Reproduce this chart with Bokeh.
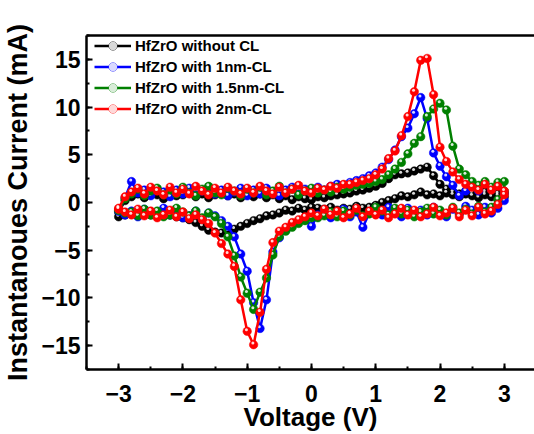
from bokeh.plotting import figure
from bokeh.models import (SingleIntervalTicker, FixedTicker, LinearAxis, Range1d,
                          Legend, LegendItem, ColumnDataSource)
from bokeh.transform import dodge
from bokeh.embed import file_html
from bokeh.resources import INLINE

# Voltage sweep (V): forward branch -3 -> 3, then reverse branch 3 -> -3
V_UP = [-3.0, -2.9, -2.8, -2.7, -2.6, -2.5, -2.4, -2.3, -2.2, -2.1,
        -2.0, -1.9, -1.8, -1.7, -1.6, -1.5, -1.4, -1.3, -1.2, -1.1,
        -1.0, -0.9, -0.8, -0.7, -0.6, -0.5, -0.4, -0.3, -0.2, -0.1,
        0.0, 0.1, 0.2, 0.3, 0.4, 0.5, 0.6, 0.7, 0.8, 0.9,
        1.0, 1.1, 1.2, 1.3, 1.4, 1.5, 1.6, 1.7, 1.8, 1.9,
        2.0, 2.1, 2.2, 2.3, 2.4, 2.5, 2.6, 2.7, 2.8, 2.9, 3.0]
V_DOWN = V_UP[::-1]

# Current (mA), forward sweep (-3 -> 3)
black_up = [-1.0, 0.2, 0.6, 0.9, 0.5, 1.1, 0.8, 0.4, 0.9, 0.7,
            0.8, 1.1, 0.6, 0.9, 0.5, 0.8, 1.1, 0.7, 0.9, 0.5,
            0.8, 0.6, 0.9, 0.5, 0.8, 0.4, 0.7, 0.3, 0.6, 0.4,
            0.3, 0.6, 0.5, 0.7, 0.8, 0.9, 1.0, 1.2, 1.3, 1.5,
            1.7, 2.0, 2.5, 2.9, 3.0, 3.1, 3.3, 3.5, 3.7, 2.8,
            1.9, 1.4, 1.1, 0.9, 1.2, 1.0, 0.8, 1.1, 0.9, 0.7, 1.0]
blue_up = [-0.9, 0.5, 2.2, 1.0, 1.3, 0.7, 1.4, 1.1, 0.6, 1.3,
           0.9, 1.5, 0.8, 1.2, 1.6, 0.9, 1.3, 0.7, 1.1, 1.5,
           0.7, 1.3, 0.9, 1.5, 1.1, 0.7, 1.3, 1.6, 0.9, 1.4,
           1.1, 1.6, 1.3, 1.7, 1.9, 1.6, 2.1, 2.3, 2.5, 2.8,
           3.1, 3.7, 4.5, 5.5, 6.9, 7.8, 9.3, 11.0, 8.8, 5.2,
           3.8, 2.7, 1.8, 0.7, 1.2, 1.7, 1.2, 2.0, 1.4, 1.8, 1.0]
green_up = [-0.8, 0.4, 0.9, 1.4, 0.7, 1.2, 1.5, 0.8, 1.3, 0.9,
            1.6, 1.0, 0.7, 1.4, 1.7, 1.0, 0.8, 1.5, 1.2, 0.7,
            1.4, 1.0, 1.6, 0.8, 1.2, 1.7, 1.0, 1.4, 0.8, 1.2,
            1.5, 1.0, 1.3, 1.1, 1.6, 1.4, 1.6, 1.8, 1.9, 2.0,
            2.2, 2.4, 2.9, 3.5, 4.2, 5.1, 6.2, 6.9, 9.0, 9.8,
            10.4, 9.7, 5.9, 3.5, 2.9, 2.2, 1.8, 2.2, 1.6, 2.1, 2.2]
red_up = [-0.6, 0.6, 1.1, 1.5, 0.9, 1.6, 1.2, 0.8, 1.6, 1.0,
          1.4, 0.9, 1.7, 1.2, 0.8, 1.5, 1.0, 1.6, 1.2, 0.9,
          1.5, 1.0, 1.7, 1.2, 0.9, 1.6, 1.0, 1.4, 1.8, 1.2,
          1.0, 1.5, 1.3, 1.7, 1.5, 1.9, 1.9, 2.1, 2.3, 2.5,
          2.9, 3.5, 4.6, 5.4, 7.0, 9.0, 11.6, 14.9, 15.1, 11.3,
          5.8, 4.3, 3.2, 2.4, 1.9, 1.6, 1.3, 1.9, 1.3, 1.7, 1.2]

# Current (mA), reverse sweep (3 -> -3)
black_down = [0.6, 0.9, 0.6, 0.8, 0.5, 0.7, 0.9, 0.6, 0.8, 1.0,
              0.7, 0.9, 0.8, 1.1, 0.8, 0.6, 0.7, 0.4, 0.2, 0.0,
              -0.3, -0.5, -0.6, -0.4, -0.7, -0.6, -0.8, -0.5, -0.7, -0.6,
              -0.5, -0.8, -0.6, -0.9, -0.8, -1.1, -1.3, -1.4, -1.7, -1.9,
              -2.2, -2.5, -2.8, -3.0, -3.2, -3.1, -2.9, -2.5, -2.1, -1.8,
              -1.6, -1.5, -1.3, -1.4, -1.2, -1.3, -1.1, -1.4, -1.2, -1.3, -1.5]
blue_down = [0.2, -0.6, -1.1, -0.5, -1.3, -0.8, -0.4, -1.2, -0.7, -1.5,
             -0.9, -0.5, -1.3, -0.8, -1.2, -0.6, -1.5, -0.9, -0.5, -1.3,
             -0.8, -1.1, -2.6, -1.0, -1.5, -0.7, -1.1, -1.6, -0.8, -1.3,
             -2.5, -1.7, -2.0, -2.3, -2.9, -3.7, -5.2, -10.2, -13.2, -10.5,
             -7.2, -5.4, -3.6, -2.5, -1.9, -1.4, -1.1, -1.7, -0.9, -1.4,
             -1.6, -0.9, -1.3, -0.6, -1.4, -1.0, -0.7, -1.5, -0.9, -1.3, -0.9]
green_down = [1.2, 0.3, -0.5, -1.0, -0.4, -1.2, -0.7, -1.1, -0.5, -1.3,
              -0.8, -1.2, -0.6, -1.0, -1.5, -0.8, -1.2, -0.6, -1.3, -0.9,
              -0.5, -1.2, -1.4, -0.8, -1.3, -0.9, -1.5, -1.0, -1.4, -1.6,
              -1.6, -1.9, -2.2, -2.6, -3.0, -3.6, -5.5, -7.9, -9.4, -11.2,
              -9.5, -7.8, -5.6, -3.6, -2.2, -1.5, -1.1, -1.6, -0.9, -1.4,
              -1.0, -0.6, -1.3, -1.5, -0.9, -1.3, -0.7, -1.4, -1.0, -1.1, -0.8]
red_down = [0.8, -0.2, -0.9, -1.2, -0.5, -1.4, -0.8, -1.5, -0.6, -1.1,
            -1.4, -0.5, -1.2, -1.5, -0.8, -1.3, -0.6, -1.2, -1.6, -0.8,
            -1.3, -0.9, -1.5, -0.6, -1.2, -1.6, -0.9, -1.3, -0.7, -1.4,
            -1.1, -1.5, -1.8, -2.1, -2.6, -3.0, -4.2, -7.0, -11.5, -14.9,
            -13.5, -10.2, -6.7, -5.4, -4.3, -3.2, -2.2, -1.8, -1.3, -1.7,
            -1.0, -1.5, -0.8, -1.3, -1.6, -0.9, -1.4, -0.7, -1.3, -1.0, -0.7]

labels = ["HfZrO without CL", "HfZrO with 1nm-CL", "HfZrO with 1.5nm-CL", "HfZrO with 2nm-CL"]
colors = ["#000000", "#0000FF", "#008000", "#FF0000"]
ups = [black_up, blue_up, green_up, red_up]
downs = [black_down, blue_down, green_down, red_down]

FONT = "Liberation Sans"

p = figure(width=534, height=434, output_backend="svg", toolbar_location=None,
           x_range=Range1d(-3.5, 3.47), y_range=Range1d(-17.5, 17.5),
           min_border_left=80, min_border_right=0, min_border_top=35,
           min_border_bottom=63, x_axis_location=None, y_axis_location=None)
p.outline_line_color = None
p.xgrid.visible = False
p.ygrid.visible = False
p.background_fill_color = "white"
p.border_fill_color = "white"

def style_axis(ax, size):
    ax.axis_line_width = 2.5
    ax.axis_line_color = "black"
    ax.major_tick_line_width = 2
    ax.minor_tick_line_width = 2
    ax.major_tick_in = 6
    ax.major_tick_out = 0
    ax.minor_tick_in = 3
    ax.minor_tick_out = 0
    ax.major_label_text_font = FONT
    ax.major_label_text_font_style = "bold"
    ax.major_label_text_font_size = size
    ax.major_label_text_color = "black"
    ax.axis_label_text_font = FONT
    ax.axis_label_text_font_style = "bold"
    ax.axis_label_text_color = "black"

xaxis = LinearAxis(ticker=SingleIntervalTicker(interval=1, num_minor_ticks=2),
                   axis_label="Voltage (V)")
style_axis(xaxis, "23px")
xaxis.major_label_standoff = 15
xaxis.axis_label_standoff = -3
xaxis.axis_label_text_font_size = "26px"
p.add_layout(xaxis, "below")

yaxis = LinearAxis(ticker=SingleIntervalTicker(interval=5, num_minor_ticks=2),
                   axis_label="Instantanoues Current (mA)")
style_axis(yaxis, "23px")
yaxis.major_label_standoff = 6
yaxis.axis_label_standoff = 5
yaxis.axis_label_text_font_size = "27px"
p.add_layout(yaxis, "left")

top = LinearAxis(ticker=FixedTicker(ticks=[]), axis_line_width=2.5,
                 major_label_text_font_size="0px")
top.major_tick_line_color = None
top.minor_tick_line_color = None
p.add_layout(top, "above")

items = []
for lab, c, up, dn in zip(labels, colors, ups, downs):
    src = ColumnDataSource(dict(v=V_UP + V_DOWN, i=up + dn))
    r1 = p.line("v", "i", source=src, line_color=c, line_width=2.5)
    r2 = p.scatter("v", "i", source=src, size=8.5, fill_color=c, line_color=c, line_width=0.5)
    r3 = p.scatter(x=dodge("v", -0.012), y=dodge("i", 0.17), source=src, size=3,
                   fill_color="white", line_color=None, fill_alpha=0.85)
    items.append(LegendItem(label=lab, renderers=[r1, r2, r3]))

legend = Legend(items=items, location=(8, 250), glyph_width=37, glyph_height=21,
                label_height=21, spacing=0, padding=0, margin=0, label_standoff=4,
                border_line_color=None, background_fill_alpha=0,
                label_text_font=FONT, label_text_font_style="bold",
                label_text_font_size="15px", label_text_color="black")
p.add_layout(legend)

open("out.html", "w").write(file_html(p, INLINE))
